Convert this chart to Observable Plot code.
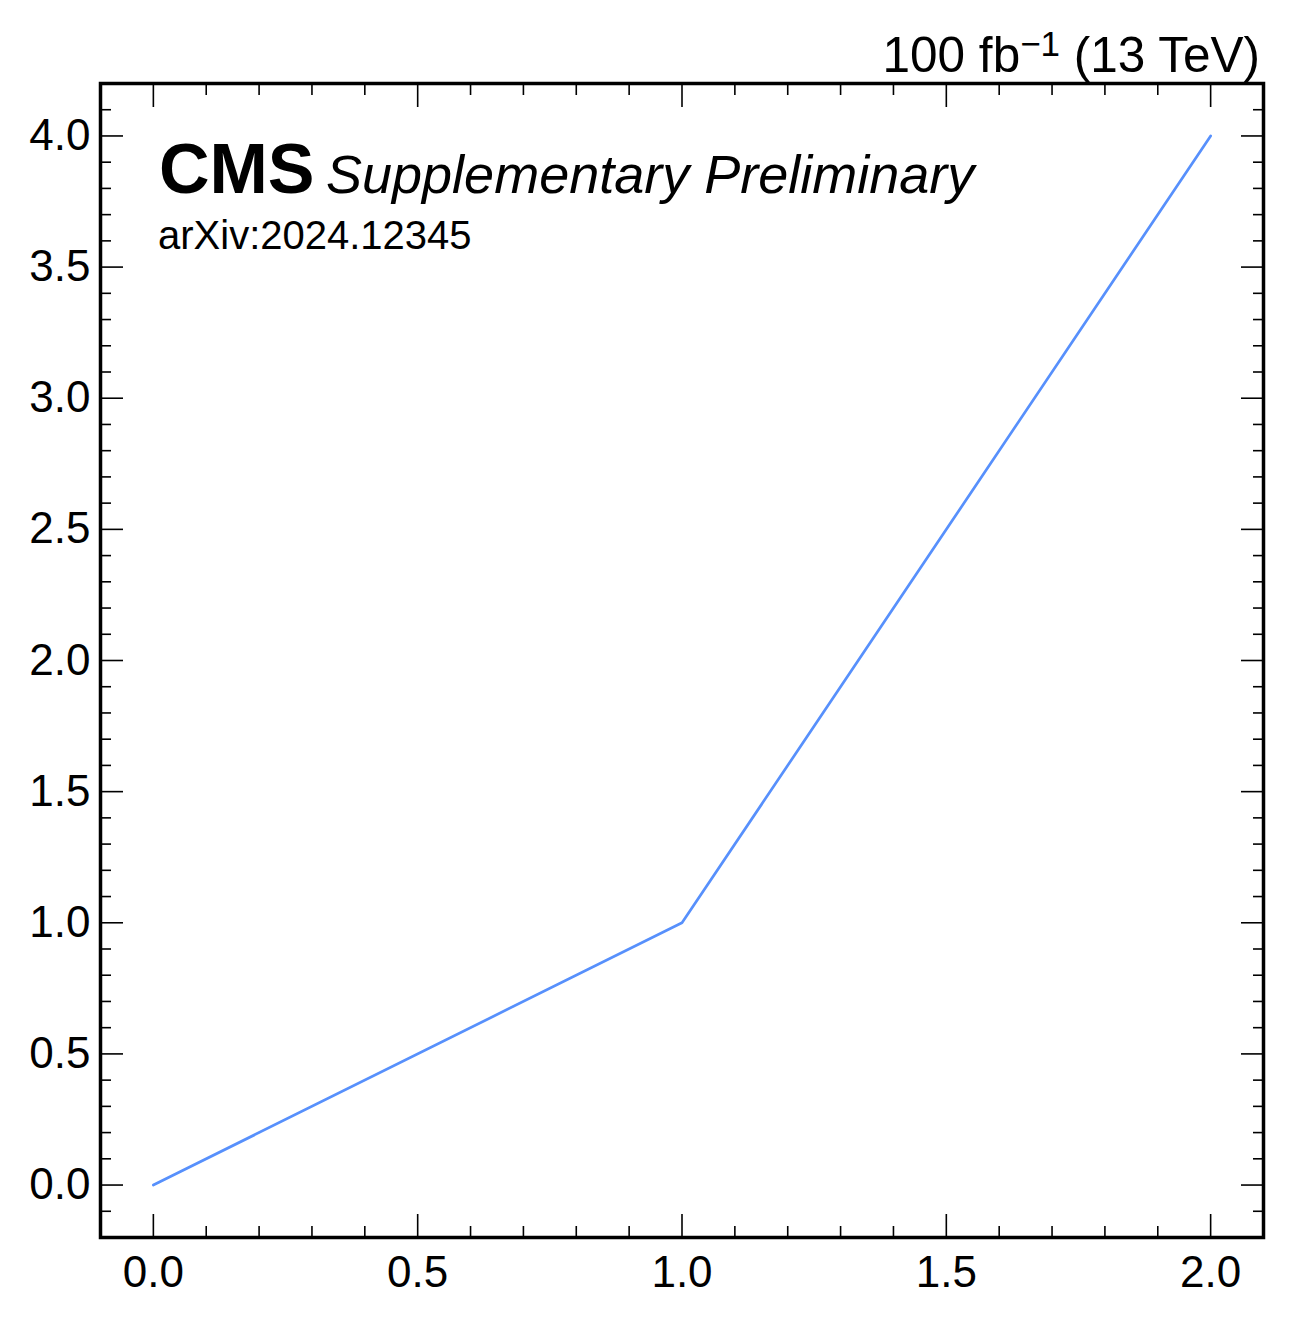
<!DOCTYPE html>
<html>
<head>
<meta charset="utf-8">
<script src="https://cdn.jsdelivr.net/npm/d3@7"></script>
<script src="https://cdn.jsdelivr.net/npm/@observablehq/plot@0.6"></script>
<style>
  html, body { margin: 0; padding: 0; background: #fff; }
  #chart { width: 1292px; height: 1326px; }
</style>
</head>
<body>
<div id="chart"></div>
<script>
const xValues = [0, 1, 2];
const yValues = [0, 1, 4];

const xMajorTicks = [0.0, 0.5, 1.0, 1.5, 2.0];
const xMinorTicks = [-0.1, 0.1, 0.2, 0.3, 0.4, 0.6, 0.7, 0.8, 0.9, 1.1, 1.2, 1.3, 1.4, 1.6, 1.7, 1.8, 1.9, 2.1];
const yMajorTicks = [0.0, 0.5, 1.0, 1.5, 2.0, 2.5, 3.0, 3.5, 4.0];
const yMinorTicks = [-0.2, -0.1, 0.1, 0.2, 0.3, 0.4, 0.6, 0.7, 0.8, 0.9, 1.1, 1.2, 1.3, 1.4, 1.6, 1.7, 1.8, 1.9,
                     2.1, 2.2, 2.3, 2.4, 2.6, 2.7, 2.8, 2.9, 3.1, 3.2, 3.3, 3.4, 3.6, 3.7, 3.8, 3.9, 4.1, 4.2];

const cmsLabel = "CMS";
const extraLabel = "Supplementary Preliminary";
const arxivLabel = "arXiv:2024.12345";
const lumiMain = "100 fb";
const lumiSup = "\u22121";
const lumiTail = " (13 TeV)";

const data = xValues.map((x, i) => ({x, y: yValues[i]}));
const fmt = d3.format(".1f");
const FONT = "'Liberation Sans', Arial, Helvetica, sans-serif";

const tickStyle = {strokeWidth: 1.6, stroke: "#000"};

const chart = Plot.plot({
  width: 1292,
  height: 1326,
  marginLeft: 100,
  marginRight: 29,
  marginTop: 83,
  marginBottom: 89,
  style: {fontFamily: FONT, fontSize: "44px", background: "#fff", color: "#000"},
  x: {domain: [-0.1, 2.1]},
  y: {domain: [-0.2, 4.2]},
  marks: [
    Plot.line(data, {x: "x", y: "y", stroke: "#5790fc", strokeWidth: 2.7}),
    // major ticks inward on all sides
    Plot.axisX({anchor: "bottom", ticks: xMajorTicks, tickSize: -23, text: null, label: null, ...tickStyle}),
    Plot.axisX({anchor: "top", ticks: xMajorTicks, tickSize: -23, text: null, label: null, ...tickStyle}),
    Plot.axisY({anchor: "left", ticks: yMajorTicks, tickSize: -23, text: null, label: null, ...tickStyle}),
    Plot.axisY({anchor: "right", ticks: yMajorTicks, tickSize: -23, text: null, label: null, ...tickStyle}),
    // minor ticks
    Plot.axisX({anchor: "bottom", ticks: xMinorTicks, tickSize: -11, text: null, label: null, ...tickStyle}),
    Plot.axisX({anchor: "top", ticks: xMinorTicks, tickSize: -11, text: null, label: null, ...tickStyle}),
    Plot.axisY({anchor: "left", ticks: yMinorTicks, tickSize: -11, text: null, label: null, ...tickStyle}),
    Plot.axisY({anchor: "right", ticks: yMinorTicks, tickSize: -11, text: null, label: null, ...tickStyle}),
    // labels
    Plot.axisX({anchor: "bottom", ticks: xMajorTicks, tickSize: 0, tickPadding: 18, tickFormat: fmt, label: null, fill: "#000", fontSize: 44}),
    Plot.axisY({anchor: "left", ticks: yMajorTicks, tickSize: 0, tickPadding: 10, tickFormat: fmt, label: null, fill: "#000", fontSize: 44}),
    Plot.frame({stroke: "#000", strokeWidth: 3.5})
  ]
});

document.getElementById("chart").appendChild(chart);

const svg = d3.select(chart);
svg.append("text")
  .attr("x", 159).attr("y", 193)
  .attr("text-anchor", "start")
  .attr("font-family", FONT).attr("font-weight", "bold").attr("font-size", 70).attr("fill", "#000")
  .text(cmsLabel);

svg.append("text")
  .attr("x", 326).attr("y", 193)
  .attr("text-anchor", "start")
  .attr("font-family", FONT).attr("font-style", "italic").attr("font-size", 54).attr("fill", "#000")
  .text(extraLabel);

svg.append("text")
  .attr("x", 158).attr("y", 249)
  .attr("text-anchor", "start")
  .attr("font-family", FONT).attr("font-size", 40).attr("fill", "#000")
  .text(arxivLabel);

const t2 = svg.append("text")
  .attr("x", 1260).attr("y", 72)
  .attr("text-anchor", "end")
  .attr("font-family", FONT).attr("font-size", 49.5).attr("fill", "#000");
t2.append("tspan").text(lumiMain);
t2.append("tspan").attr("font-size", 35).attr("dy", -16).text(lumiSup);
t2.append("tspan").attr("dy", 16).text(lumiTail);
</script>
</body>
</html>
